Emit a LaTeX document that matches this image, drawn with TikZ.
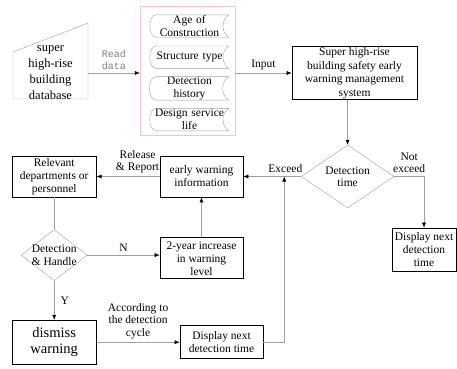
\documentclass[tikz,border=0pt]{standalone}
\usepackage{fontspec}
\setmainfont{Liberation Serif}
\setmonofont{Liberation Mono}
\usetikzlibrary{shapes.geometric, calc, positioning, arrows.meta}
\definecolor{framepink}{RGB}{245,195,205}

\begin{document}
\begin{tikzpicture}[
		x=1pt, y=1pt,
		node distance=40pt and 60pt,
		>={Latex[length=5pt, width=4pt, color=black]}, % black tips on grey lines
		font=\fontsize{11.5}{13}\selectfont,
		block/.style={
				draw,
				rectangle,
				line width=0.8pt,
				align=center,
				inner sep=1pt
			},
		stored/.style={
				rectangle,
				minimum width=78pt,
				minimum height=22pt,
				text width=76pt,
				align=center,
				inner sep=0pt
			},
		decision/.style={
				draw=gray!75,
				diamond,
				inner sep=0pt
			},
		line/.style={
				draw=gray!75,
				thin
			},
		lbl/.style={
				align=center,
				font=\fontsize{11.5}{12.5}\selectfont
			}
	]
	\useasboundingbox (0,0) rectangle (457,-368);

	% Data source
	\node[minimum width=75pt, text width=72pt, align=center, inner sep=0pt,
		font=\fontsize{12.5}{16}\selectfont] (db) at (50.5,-73) {super\\high-rise\\building\\database};
	\draw[gray!75] (13,-52) -- (88,-23) -- (88,-99) -- (13,-99) -- cycle;

	\node[draw=framepink, minimum width=95pt, minimum height=129pt] (src) at (187.5,-70.5) {};
	\foreach \name/\txt [count=\i] in {age/{Age of\\Construction}, struct/{Structure type},
			hist/{Detection\\history}, life/{Design service\\life}} {
			\node[stored] (\name) at (189.5,{-26-31.2*(\i-1)}) {\txt};
			\draw[gray!75] ([xshift=6pt]\name.north west) to[out=180, in=180] ([xshift=6pt]\name.south west)
			-- (\name.south east) to[out=150, in=210] (\name.north east) -- cycle;
		}

	% Nodes
	\node[block, minimum width=125pt, minimum height=52pt, font=\fontsize{11.5}{13.5}\selectfont]
	(sys) at (354.5,-73) {Super high-rise\\building safety early\\warning management\\system};
	\node[block, minimum width=83pt, minimum height=41pt] (ewi) at (201.5,-176.5) {early warning\\information};
	\node[decision, minimum width=93pt, minimum height=63pt, right=57.5pt of ewi,
		label={[lbl]center:Detection\\time}] (dt) {};
	\node[block, minimum width=84pt, minimum height=41pt, left=63pt of ewi] (rel) {Relevant\\departments or\\personnel};
	\node[decision, minimum width=66pt, minimum height=51pt, below=32pt of rel,
		label={[lbl]center:Detection\\\& Handle}] (dh) {};
	\node[block, minimum width=83pt, minimum height=41pt, below=of ewi] (inc) {2-year increase\\in warning\\level};
	\node[block, minimum width=84pt, minimum height=44pt, below=39pt of dh,
		font=\fontsize{14.5}{16.5}\selectfont] (dis) {dismiss\\warning};
	\node[block, minimum width=83pt, minimum height=33pt, right=83pt of dis] (disp2) {Display next\\detection time};
	\node[block, minimum width=64pt, minimum height=43pt] (disp1) at (424,-249.5) {Display next\\detection\\time};
	\coordinate (merge) at ($(dt.west)!0.29!(ewi.east)$);

	% Paths
	\draw[line, ->] (db.east) -- node[above, lbl, text=gray, font=\ttfamily\fontsize{10}{12}\selectfont] {Read\\data} (db.east -| src.west);
	\draw[line, ->] (src.east |- sys.west) -- node[above, lbl] {Input} (sys.west);
	\draw[line, ->] (sys.south -| dt.north) -- (dt.north);
	\draw[line, ->] (dt.west) -- node[pos=0.27, above, lbl] {Exceed} (ewi.east);
	\draw[line, ->] (dt.east) -| node[pos=0.25, above, lbl] {Not\\exceed} (disp1.north);
	\draw[line, ->] (ewi.west) -- node[pos=0.35, above, lbl] {Release\\\& Report} (rel.east);
	\draw[line] (rel.south) -- (dh.north);
	\draw[line, ->] (dh.east) -- node[above, lbl] {N} (dh.east -| inc.west);
	\draw[line, ->] (inc.north) -- (ewi.south);
	\draw[line, ->] (dh.south) -- node[right=3pt, lbl] {Y} (dis.north);
	\draw[line, ->] (dis.east) -- node[above, lbl] {According to\\the detection\\cycle} (dis.east -| disp2.west);
	\draw[line, ->] (disp2.east) -| (merge);
\end{tikzpicture}
\end{document}
